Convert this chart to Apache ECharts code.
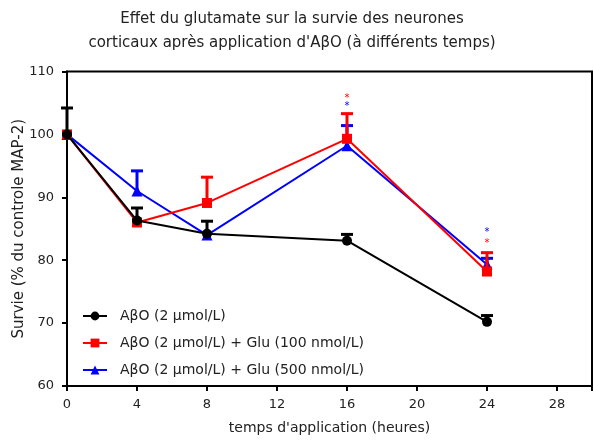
<!DOCTYPE html>
<html>
<head>
<meta charset="utf-8">
<script src="https://cdn.jsdelivr.net/npm/echarts@6/dist/echarts.min.js"></script>
<style>html,body{margin:0;padding:0;background:#fff}#c{width:594px;height:441px}</style>
</head>
<body>
<div id="c"></div>
<script>
const times = [0, 4, 8, 16, 24];
const xTicks = [0, 4, 8, 12, 16, 20, 24, 28];
const yTicks = [60, 70, 80, 90, 100, 110];
const nameBlack = 'AβO (2 µmol/L)';
const nameRed = 'AβO (2 µmol/L) + Glu (100 nmol/L)';
const nameBlue = 'AβO (2 µmol/L) + Glu (500 nmol/L)';
const valBlack = [100, 86.3, 84.2, 83.1, 70.2];
const errBlack = [4.2, 2, 2, 1, 1];
const valRed = [100, 86, 89.1, 99.3, 78.2];
const errRed = [0, 0, 4.1, 4, 3];
const valBlue = [100, 91, 84, 98.2, 79.3];
const errBlue = [0, 3.2, 0, 3.2, 1];
const starsRed = [[16, 106.0], [24, 83.0]];
const starsBlue = [[16, 104.7], [24, 84.8]];

const FONT = 'DejaVu Sans';
const TXT = '#222';

function pts(v) { return times.map((t, i) => [t, v[i]]); }
function errData(v, e) { return times.map((t, i) => [t, v[i], e[i]]); }

function errSeries(v, e, color, z) {
  return {
    type: 'custom', z: z, silent: true,
    data: errData(v, e),
    renderItem: function (params, api) {
      const x = api.value(0), y = api.value(1), er = api.value(2);
      if (!er) return null;
      const p0 = api.coord([x, y]);
      const p1 = api.coord([x, y + er]);
      return {
        type: 'group',
        children: [
          { type: 'line', shape: { x1: p0[0], y1: p0[1], x2: p1[0], y2: p1[1] }, style: { stroke: color, lineWidth: 3 } },
          { type: 'line', shape: { x1: p1[0] - 6, y1: p1[1], x2: p1[0] + 6, y2: p1[1] }, style: { stroke: color, lineWidth: 3 } }
        ]
      };
    }
  };
}

function starSeries(d, color) {
  return {
    type: 'custom', z: 10, silent: true,
    data: d,
    renderItem: function (params, api) {
      const p = api.coord([api.value(0), api.value(1)]);
      return {
        type: 'text',
        style: { text: '*', x: p[0], y: p[1] + 2, fill: color, font: '10px ' + FONT, align: 'center', verticalAlign: 'middle' }
      };
    }
  };
}

const chart = echarts.init(document.getElementById('c'), null, { renderer: 'canvas' });
chart.setOption({
  animation: false,
  backgroundColor: '#fff',
  title: {
    text: 'Effet du glutamate sur la survie des neurones\ncorticaux après application d\'AβO (à différents temps)',
    left: 287, top: 2, textAlign: 'center',
    textStyle: { fontFamily: FONT, fontSize: 15, fontWeight: 'normal', color: TXT, lineHeight: 24 }
  },
  grid: { left: 67, right: 2, top: 71.5, bottom: 55, show: true, borderColor: '#000', borderWidth: 2, backgroundColor: 'transparent', outerBoundsMode: 'none', containLabel: false },
  legend: {
    orient: 'vertical', left: 77, top: 303,
    itemWidth: 24, itemHeight: 11, itemGap: 11,
    data: [nameBlack, nameRed, nameBlue],
    textStyle: { fontFamily: FONT, fontSize: 14, color: TXT, lineHeight: 16, padding: [0, 0, 0, 8] }
  },
  xAxis: {
    type: 'value', min: 0, max: 30, interval: 4,
    name: 'temps d\'application (heures)', nameLocation: 'middle', nameGap: 35, nameMoveOverlap: false,
    nameTextStyle: { fontFamily: FONT, fontSize: 14, color: TXT },
    axisLine: { lineStyle: { color: '#000', width: 2 } },
    axisTick: { length: 5, lineStyle: { color: '#000', width: 2 } },
    splitLine: { show: false },
    axisLabel: {
      fontFamily: FONT, fontSize: 13, color: TXT, margin: 12,
      formatter: v => (xTicks.indexOf(v) >= 0 ? String(v) : '')
    }
  },
  yAxis: {
    type: 'value', min: 60, max: 110, interval: 10,
    name: 'Survie (% du controle MAP-2)', nameLocation: 'middle', nameGap: 40, nameRotate: 90, nameMoveOverlap: false,
    nameTextStyle: { fontFamily: FONT, fontSize: 15, color: TXT },
    axisLine: { show: true, lineStyle: { color: '#000', width: 2 } },
    axisTick: { show: true, length: 5, lineStyle: { color: '#000', width: 2 } },
    splitLine: { show: false },
    axisLabel: {
      fontFamily: FONT, fontSize: 13, color: TXT, margin: 13,
      formatter: v => (yTicks.indexOf(v) >= 0 ? String(v) : '')
    }
  },
  series: [
    errSeries(valBlue, errBlue, '#0000ff', 2),
    { name: nameBlue, type: 'line', z: 3, data: pts(valBlue), symbol: 'triangle', symbolSize: 11,
      lineStyle: { color: '#0000ff', width: 2 }, itemStyle: { color: '#0000ff' } },
    errSeries(valRed, errRed, '#ff0000', 4),
    { name: nameRed, type: 'line', z: 5, data: pts(valRed), symbol: 'rect', symbolSize: 10,
      lineStyle: { color: '#ff0000', width: 2 }, itemStyle: { color: '#ff0000' } },
    errSeries(valBlack, errBlack, '#000000', 6),
    { name: nameBlack, type: 'line', z: 7, data: pts(valBlack), symbol: 'circle', symbolSize: 10,
      lineStyle: { color: '#000000', width: 2 }, itemStyle: { color: '#000000' } },
    starSeries(starsRed, '#ff0000'),
    starSeries(starsBlue, '#0000ff')
  ]
});
</script>
</body>
</html>
